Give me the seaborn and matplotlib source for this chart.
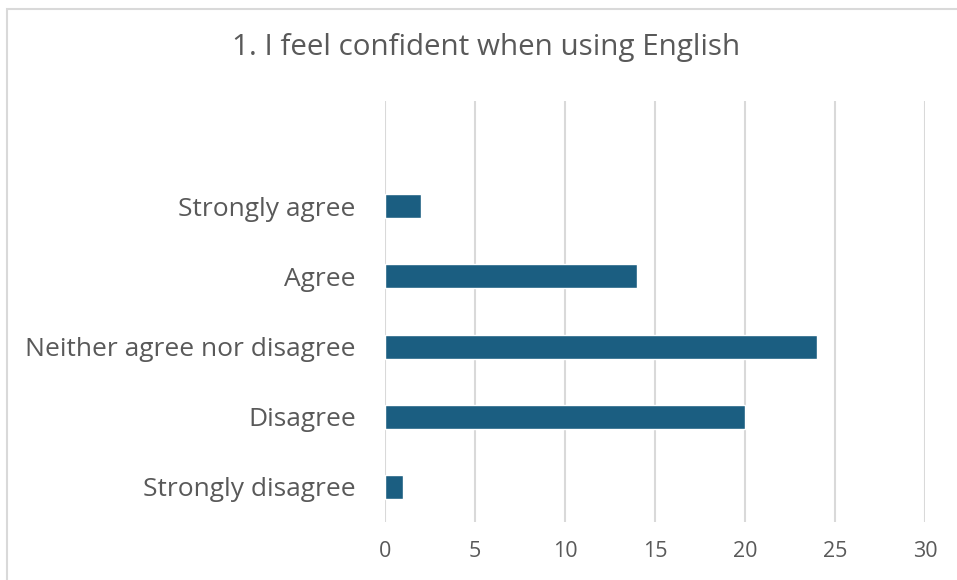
import matplotlib
matplotlib.use("Agg")
import matplotlib.pyplot as plt
import seaborn as sns
import pandas as pd
from matplotlib.patches import Rectangle

categories = ["Strongly agree", "Agree", "Neither agree nor disagree",
              "Disagree", "Strongly disagree"]
counts = [2, 14, 24, 20, 1]
x_ticks = [0, 5, 10, 15, 20, 25, 30]
title = "1. I feel confident when using English"

df = pd.DataFrame({"category": categories, "count": counts})

sns.set_theme(style="white")
plt.rcParams["font.family"] = ["Open Sans", "DejaVu Sans"]

text_color = "#595959"
bar_color = "#1B5E81"
grid_color = "#D9D9D9"

fig = plt.figure(figsize=(9.57, 5.8), dpi=100)
ax = fig.add_axes([385 / 957, 1 - 522 / 580, (925 - 385) / 957, (522 - 101) / 580])

sns.barplot(data=df, y="category", x="count", orient="h", color=bar_color,
            width=0.34, saturation=1, ax=ax, zorder=3)

ax.set_xlim(0, 30)
ax.set_ylim(4.5, -1.5)
ax.set_xticks(x_ticks)
ax.set_xticklabels([str(t) for t in x_ticks])
ax.grid(axis="x", color=grid_color, linewidth=1.5, zorder=0)
ax.grid(axis="y", visible=False)
for side in ax.spines.values():
    side.set_visible(False)
ax.set_xlabel("")
ax.set_ylabel("")
ax.tick_params(axis="x", length=0, pad=14, labelsize=15.5, labelcolor=text_color)
ax.tick_params(axis="y", length=0, pad=21, labelsize=19, labelcolor=text_color)

fig.text(486 / 957, 1 - 48 / 580, title, ha="center", va="center",
         fontsize=21.3, color=text_color)

# light frame around the chart area
fig.patches.append(Rectangle((7.5 / 957, -0.1), 1.2, 1.1 - 8.5 / 580,
                             transform=fig.transFigure, fill=False,
                             edgecolor="#D9D9D9", linewidth=1.5))

fig.savefig("out.png", dpi=100, facecolor="white")
